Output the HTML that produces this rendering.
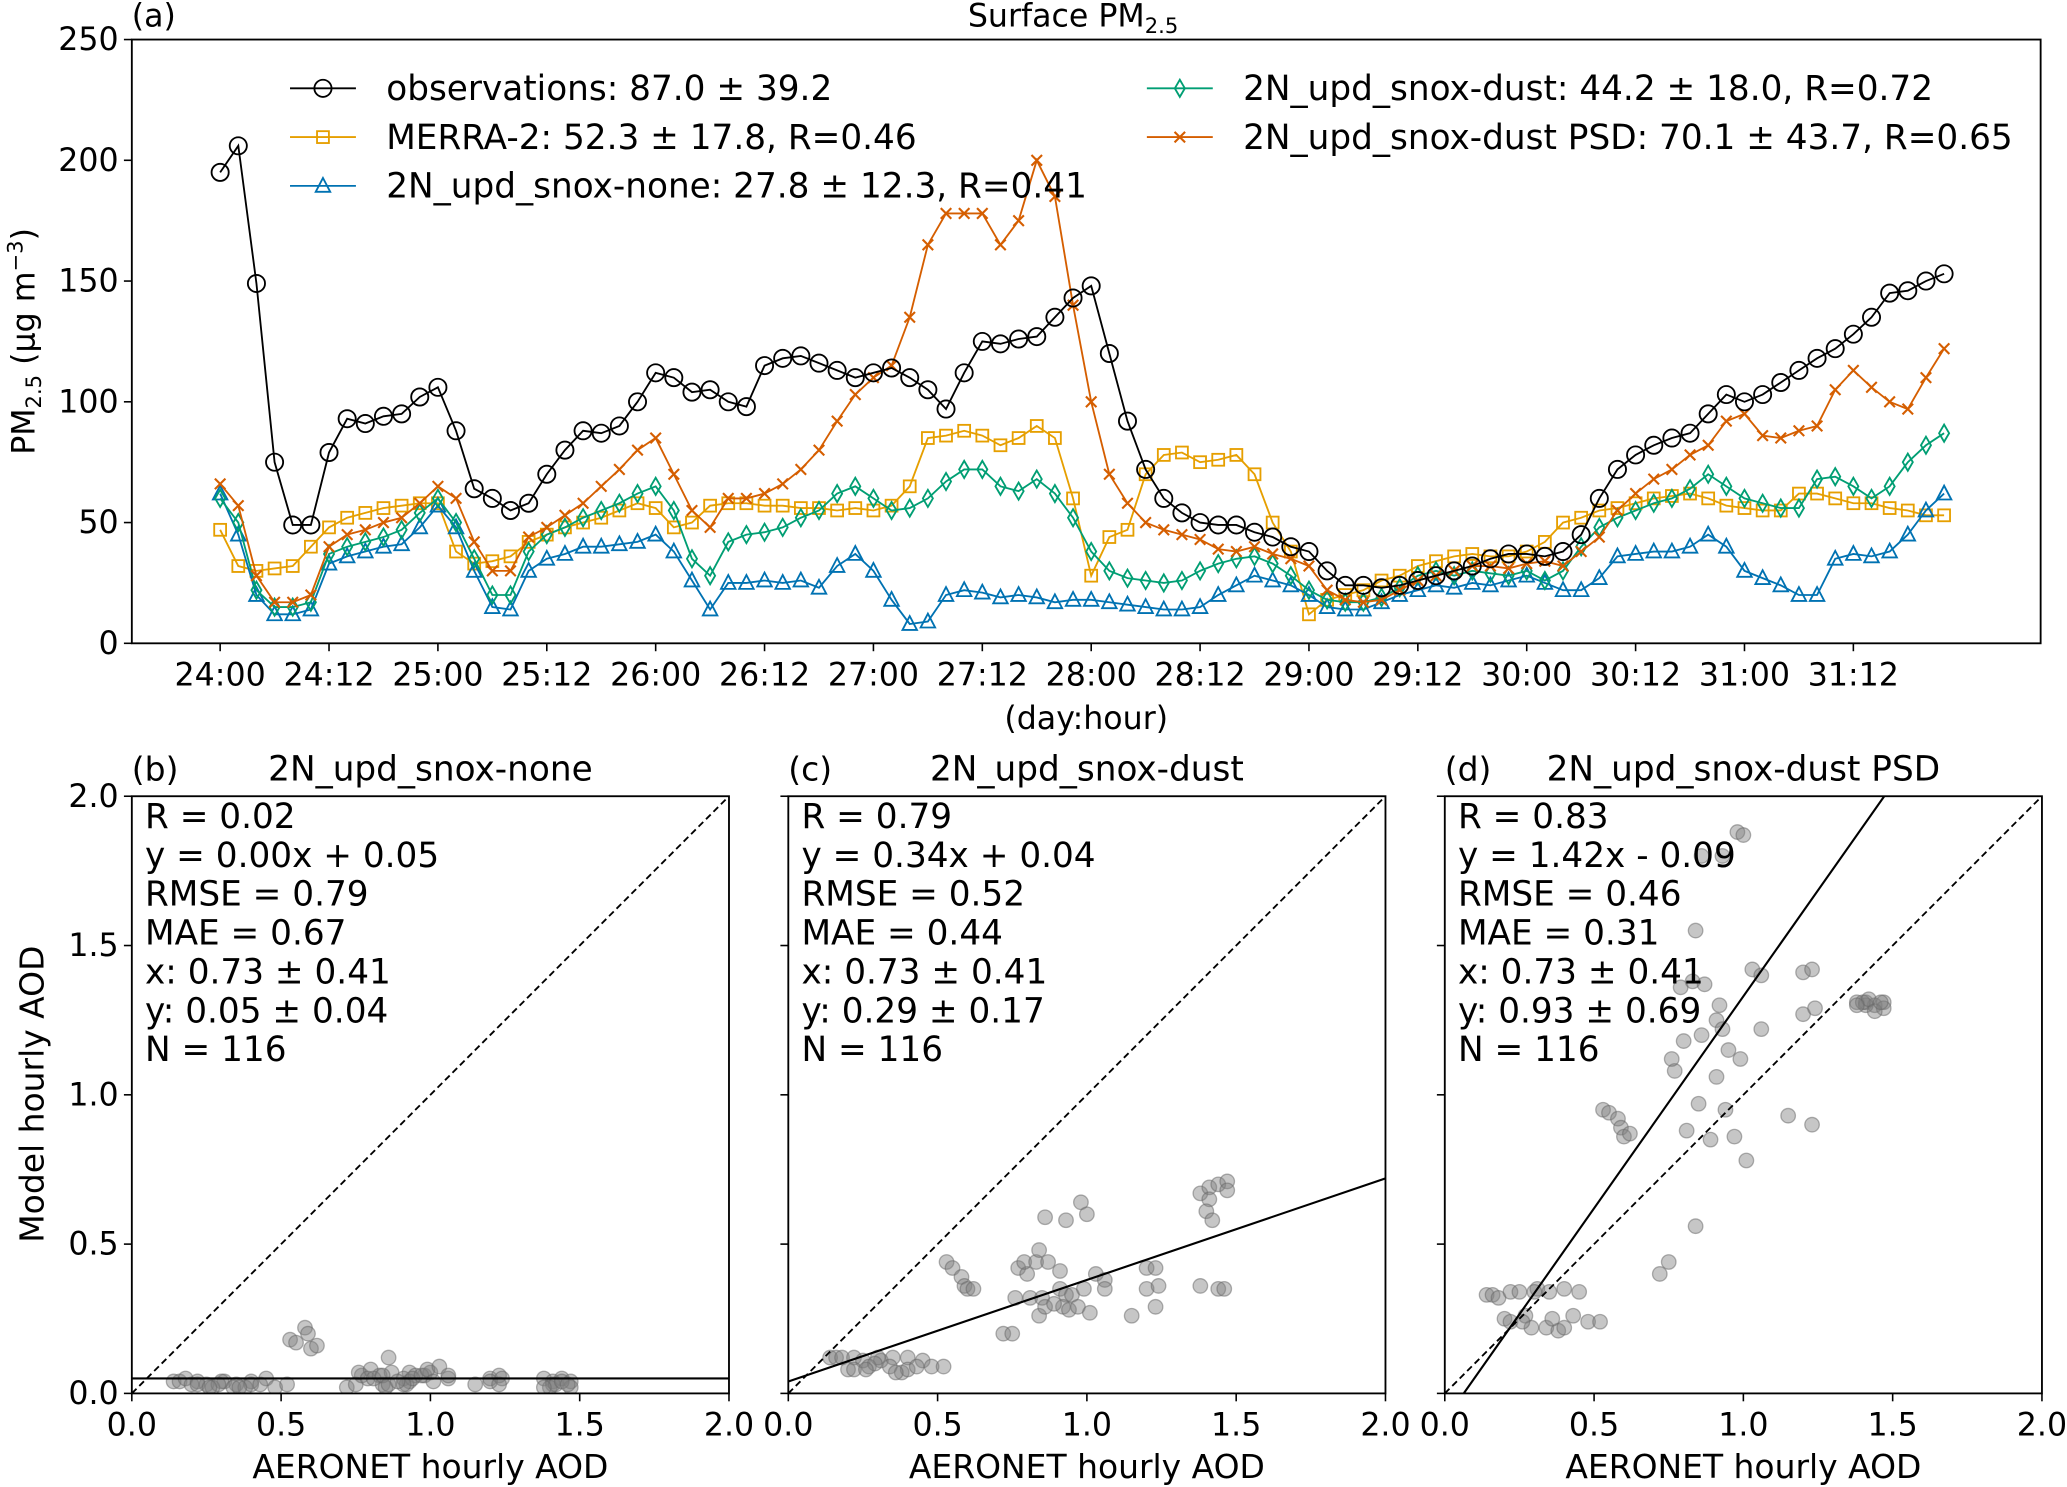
<!DOCTYPE html>
<html><head><meta charset="utf-8"><style>
html,body{margin:0;padding:0;background:#fff;}
svg{display:block;font-family:"DejaVu Sans","Liberation Sans",sans-serif;}
</style></head><body>
<svg id="fig" width="2067" height="1487" viewBox="0 0 1568 1128" preserveAspectRatio="none" xmlns="http://www.w3.org/2000/svg"></svg>
<script>
// ---------- time series data (2-hourly, hours since 24:00) ----------
const hours = [];
for (let h = 0; h <= 190; h += 2) hours.push(h);
const obsVals = [195,206,149,75,49,49,79,93,91,94,95,102,
 106,88,64,60,55,58,70,80,88,87,90,100,
 112,110,104,105,100,98,115,118,119,116,113,110,
 112,114,110,105,97,112,125,124,126,127,135,143,
 148,120,92,72,60,54,50,49,49,46,44,40,
 38,30,24,24,23,24,26,28,30,32,35,37,
 37,36,38,45,60,72,78,82,85,87,95,103,
 100,103,108,113,118,122,128,135,145,146,150,153];
const merraVals = [47,32,30,31,32,40,48,52,54,56,57,58,
 58,38,33,34,36,42,45,48,50,52,55,58,
 56,48,50,57,58,58,57,57,56,56,55,56,
 55,57,65,85,86,88,86,82,85,90,85,60,
 28,44,47,70,78,79,75,76,78,70,50,38,
 12,18,20,22,26,28,32,34,36,37,36,36,
 38,42,50,52,55,56,58,60,61,62,60,57,
 56,55,55,62,62,60,58,58,56,55,53,53];
const noneVals = [62,45,20,12,12,14,33,36,38,40,41,48,
 57,48,30,15,14,30,35,37,40,40,41,42,
 45,38,26,14,25,25,26,25,26,23,32,37,
 30,18,8,9,20,22,21,19,20,19,17,18,
 18,17,16,15,14,14,15,20,24,28,26,24,
 20,15,14,14,17,20,22,24,23,25,24,26,
 28,25,22,22,27,36,37,38,38,40,45,40,
 30,27,24,20,20,35,37,36,38,45,55,62];
const dustVals = [60,50,22,15,15,17,37,40,42,44,47,54,
 60,50,35,20,20,38,45,48,52,55,58,62,
 65,55,35,28,42,45,46,48,52,55,62,65,
 60,55,56,60,67,72,72,65,63,68,62,52,
 38,30,27,26,25,26,30,33,35,36,33,28,
 22,18,17,17,19,23,28,30,28,30,29,28,
 30,26,30,40,48,52,55,58,60,64,70,65,
 60,58,56,56,68,69,65,60,65,75,82,87];
const psdVals = [66,57,28,17,17,20,40,45,47,50,52,58,
 65,60,42,30,30,44,48,53,58,65,72,80,
 85,70,55,48,60,60,62,66,72,80,92,103,
 110,115,135,165,178,178,178,165,175,200,185,140,
 100,70,58,50,47,45,43,39,38,40,37,35,
 32,22,18,17,18,22,26,28,30,32,32,31,
 33,34,32,38,44,55,62,68,72,78,82,92,
 95,86,85,88,90,105,113,106,100,97,110,122];
const xTickLabels = ["24:00","24:12","25:00","25:12","26:00","26:12","27:00","27:12","28:00","28:12","29:00","29:12","30:00","30:12","31:00","31:12"];
const xTickHours = [0,12,24,36,48,60,72,84,96,108,120,132,144,156,168,180];
const yTicks = [0,50,100,150,200,250];

// ---------- scatter data ----------
const aodObs  = [0.14,0.16,0.18,0.22,0.25,0.31,0.35,0.40,0.45,0.30,0.20,0.22,0.27,0.29,0.34,0.38,0.40,0.43,0.48,0.52,0.36,0.26,
 0.53,0.55,0.58,0.59,0.60,0.62,0.72,0.75,0.77,0.76,0.80,0.79,0.83,0.84,0.87,0.86,0.93,0.98,1.00,0.81,0.85,0.84,0.86,0.91,0.93,0.95,0.92,0.94,0.97,0.99,1.01,1.03,1.06,1.06,0.91,0.89,
 1.15,1.20,1.23,1.20,1.24,1.23,1.38,1.41,1.44,1.47,1.47,1.41,1.40,1.42,1.38,1.44,1.46];
const aodNone = [0.04,0.04,0.05,0.04,0.03,0.04,0.03,0.04,0.05,0.04,0.03,0.03,0.02,0.03,0.02,0.02,0.03,0.03,0.02,0.03,0.02,0.02,
 0.18,0.17,0.22,0.20,0.15,0.16,0.02,0.03,0.06,0.07,0.08,0.05,0.06,0.03,0.07,0.12,0.07,0.06,0.07,0.05,0.02,0.06,0.03,0.05,0.04,0.06,0.03,0.05,0.06,0.08,0.04,0.09,0.05,0.06,0.03,0.04,
 0.03,0.05,0.06,0.04,0.05,0.03,0.05,0.04,0.05,0.04,0.02,0.03,0.02,0.03,0.02,0.04,0.03];
const aodDust = [0.12,0.12,0.12,0.12,0.11,0.11,0.12,0.12,0.11,0.12,0.08,0.08,0.09,0.10,0.09,0.07,0.08,0.09,0.09,0.09,0.07,0.08,
 0.44,0.42,0.39,0.36,0.35,0.35,0.20,0.20,0.42,0.32,0.40,0.44,0.44,0.48,0.44,0.59,0.58,0.64,0.60,0.32,0.32,0.26,0.29,0.35,0.33,0.33,0.29,0.28,0.29,0.35,0.27,0.40,0.38,0.35,0.41,0.30,
 0.26,0.42,0.42,0.35,0.36,0.29,0.67,0.69,0.70,0.71,0.68,0.65,0.61,0.58,0.36,0.35,0.35];
const aodPsd  = [0.33,0.33,0.32,0.34,0.34,0.35,0.34,0.35,0.34,0.34,0.25,0.24,0.26,0.22,0.22,0.21,0.22,0.26,0.24,0.24,0.25,0.24,
 0.95,0.94,0.92,0.89,0.86,0.87,0.40,0.44,1.08,1.12,1.18,1.36,1.38,1.55,1.37,1.80,1.80,1.88,1.87,0.88,0.97,0.56,1.20,1.25,1.22,1.15,1.30,0.95,0.86,1.12,0.78,1.42,1.40,1.22,1.06,0.85,
 0.93,1.41,1.42,1.27,1.29,0.90,1.31,1.31,1.30,1.31,1.29,1.30,1.31,1.32,1.30,1.28,1.31];
const fitSlopes = [0.00,0.34,1.42];
const fitIntercepts = [0.05,0.04,-0.09];
const aodTicks = [0,0.5,1.0,1.5,2.0];

const NS = "http://www.w3.org/2000/svg";
const svgRoot = document.getElementById('fig');
function mk(tag, attrs, parent, name, inter) {
  const e = document.createElementNS(NS, tag);
  for (const k in attrs) e.setAttribute(k, attrs[k]);
  
  
  (parent || svgRoot).appendChild(e);
  return e;
}
function txt(x, y, s, size, anchor, name, parent, extra) {
  const t = mk('text', Object.assign({x: x, y: y, 'font-size': size, 'text-anchor': anchor || 'start', fill: '#000'}, extra || {}), parent, name, false);
  t.textContent = s;
  return t;
}

// ---------- top panel ----------
const L = 100, R = 1548, T = 30, B = 488;
const xs = h => 167 + h * 6.883;
const ys = v => B - v * (B - T) / 250;
const topG = mk('g', {}, svgRoot, 'timeseries-panel', false);
mk('rect', {x: L, y: T, width: R - L, height: B - T, fill: 'none', stroke: '#000', 'stroke-width': 1.4}, topG, 'plot-frame', false);
yTicks.forEach(v => {
  mk('line', {x1: L - 6, x2: L, y1: ys(v), y2: ys(v), stroke: '#000', 'stroke-width': 1.2}, topG, 'y-tick', false);
  txt(L - 10, ys(v) + 8, String(v), 24, 'end', 'y-tick-label', topG);
});
xTickHours.forEach((h, i) => {
  mk('line', {x1: xs(h), x2: xs(h), y1: B, y2: B + 6, stroke: '#000', 'stroke-width': 1.2}, topG, 'x-tick', false);
  txt(xs(h), B + 32, xTickLabels[i], 24, 'middle', 'x-tick-label', topG);
});
txt(824, 553, '(day:hour)', 24, 'middle', 'x-axis-title', topG);
const yl = txt(0, 0, '', 24, 'middle', 'y-axis-title', topG, {transform: 'translate(26,259) rotate(-90)'});
yl.innerHTML = 'PM<tspan font-size="16" dy="5">2.5</tspan><tspan dy="-5"> (μg m</tspan><tspan font-size="16" dy="-9">−3</tspan><tspan dy="9">)</tspan>';
txt(100, 20, '(a)', 24, 'start', 'panel-label-a', topG);
const tt = txt(814, 20, '', 24, 'middle', 'chart-title', topG);
tt.innerHTML = 'Surface PM<tspan font-size="16" dy="5">2.5</tspan>';

function marker(type, x, y, color, g) {
  if (type === 'o') return mk('circle', {cx: x, cy: y, r: 6.5, fill: 'none', stroke: color, 'stroke-width': 1.4}, g, 'marker-circle', false);
  if (type === 's') return mk('rect', {x: x - 4.5, y: y - 4.5, width: 9, height: 9, fill: 'none', stroke: color, 'stroke-width': 1.4}, g, 'marker-square', false);
  if (type === '^') return mk('polygon', {points: `${x},${y-6} ${x-5.5},${y+4.5} ${x+5.5},${y+4.5}`, fill: 'none', stroke: color, 'stroke-width': 1.4}, g, 'marker-triangle', false);
  if (type === 'd') return mk('polygon', {points: `${x},${y-6.5} ${x-3.8},${y} ${x},${y+6.5} ${x+3.8},${y}`, fill: 'none', stroke: color, 'stroke-width': 1.4}, g, 'marker-diamond', false);
  if (type === 'x') return mk('path', {d: `M${x-4},${y-4}L${x+4},${y+4}M${x-4},${y+4}L${x+4},${y-4}`, stroke: color, 'stroke-width': 1.6}, g, 'marker-x', false);
}
const series = [
  {vals: merraVals, color: '#E69F00', m: 's', name: 'merra2'},
  {vals: noneVals, color: '#0072B2', m: '^', name: 'snox-none'},
  {vals: dustVals, color: '#009E73', m: 'd', name: 'snox-dust'},
  {vals: psdVals, color: '#D55E00', m: 'x', name: 'snox-dust-psd'},
  {vals: obsVals, color: '#000000', m: 'o', name: 'observations'}
];
series.forEach(s => {
  const g = mk('g', {}, topG, 'series-' + s.name, false);
  const pts = s.vals.map((v, i) => xs(hours[i]) + ',' + ys(v)).join(' ');
  mk('polyline', {points: pts, fill: 'none', stroke: s.color, 'stroke-width': 1.4}, g, 'line-' + s.name, false);
  s.vals.forEach((v, i) => marker(s.m, xs(hours[i]), ys(v), s.color, g));
});
// legend
const leg = mk('g', {}, topG, 'legend', false);
const legItems = [
  [220, 67, 'o', '#000000', 'observations: 87.0 ± 39.2'],
  [220, 104, 's', '#E69F00', 'MERRA-2: 52.3 ± 17.8, R=0.46'],
  [220, 141, '^', '#0072B2', '2N_upd_snox-none: 27.8 ± 12.3, R=0.41'],
  [870, 67, 'd', '#009E73', '2N_upd_snox-dust: 44.2 ± 18.0, R=0.72'],
  [870, 104, 'x', '#D55E00', '2N_upd_snox-dust PSD: 70.1 ± 43.7, R=0.65']
];
legItems.forEach(it => {
  const g = mk('g', {}, leg, 'legend-entry', false);
  mk('line', {x1: it[0], x2: it[0] + 50, y1: it[1], y2: it[1], stroke: it[3], 'stroke-width': 1.4}, g, 'legend-line', false);
  marker(it[2], it[0] + 25, it[1], it[3], g);
  txt(it[0] + 73, it[1] + 9, it[4], 26, 'start', 'legend-label', g);
});

// ---------- scatter panels ----------
const panels = [
  {L: 100, lab: '(b)', title: '2N_upd_snox-none', y: aodNone, stats: ['R = 0.02','y = 0.00x + 0.05','RMSE = 0.79','MAE = 0.67','x: 0.73 ± 0.41','y: 0.05 ± 0.04','N = 116'], yl: true},
  {L: 598, lab: '(c)', title: '2N_upd_snox-dust', y: aodDust, stats: ['R = 0.79','y = 0.34x + 0.04','RMSE = 0.52','MAE = 0.44','x: 0.73 ± 0.41','y: 0.29 ± 0.17','N = 116'], yl: false},
  {L: 1096, lab: '(d)', title: '2N_upd_snox-dust PSD', y: aodPsd, stats: ['R = 0.83','y = 1.42x - 0.09','RMSE = 0.46','MAE = 0.31','x: 0.73 ± 0.41','y: 0.93 ± 0.69','N = 116'], yl: false}
];
const PT = 604, PB = 1057, PW = 453;
panels.forEach((p, k) => {
  const g = mk('g', {}, svgRoot, 'scatter-panel-' + p.lab[1], false);
  const sx = v => p.L + v / 2 * PW;
  const sy = v => PB - v / 2 * (PB - PT);
  const clip = mk('clipPath', {id: 'c' + k}, g, 'clip', false);
  mk('rect', {x: p.L, y: PT, width: PW, height: PB - PT}, clip, 'clip-rect', false);
  const inner = mk('g', {'clip-path': `url(#c${k})`}, g, 'plot-area', false);
  aodObs.forEach((x, i) => {
    mk('circle', {cx: sx(x), cy: sy(p.y[i]), r: 5.5, fill: '#808080', 'fill-opacity': 0.45, stroke: '#666', 'stroke-opacity': 0.5, 'stroke-width': 1}, inner, 'scatter-point', false);
  });
  mk('line', {x1: sx(0), y1: sy(0), x2: sx(2), y2: sy(2), stroke: '#000', 'stroke-width': 1.4, 'stroke-dasharray': '5,3'}, inner, 'one-to-one-line', false);
  mk('line', {x1: sx(0), y1: sy(fitIntercepts[k]), x2: sx(2), y2: sy(fitSlopes[k] * 2 + fitIntercepts[k]), stroke: '#000', 'stroke-width': 1.6}, inner, 'fit-line', false);
  mk('rect', {x: p.L, y: PT, width: PW, height: PB - PT, fill: 'none', stroke: '#000', 'stroke-width': 1.4}, g, 'plot-frame', false);
  aodTicks.forEach(v => {
    mk('line', {x1: sx(v), x2: sx(v), y1: PB, y2: PB + 6, stroke: '#000', 'stroke-width': 1.2}, g, 'x-tick', false);
    txt(sx(v), PB + 32, v.toFixed(1), 24, 'middle', 'x-tick-label', g);
    mk('line', {x1: p.L - 6, x2: p.L, y1: sy(v), y2: sy(v), stroke: '#000', 'stroke-width': 1.2}, g, 'y-tick', false);
    if (p.yl) txt(p.L - 10, sy(v) + 8, v.toFixed(1), 24, 'end', 'y-tick-label', g);
  });
  txt(p.L + PW / 2, 1121, 'AERONET hourly AOD', 25, 'middle', 'x-axis-title', g);
  txt(p.L, 592, p.lab, 25, 'start', 'panel-label', g);
  txt(p.L + PW / 2, 592, p.title, 26, 'middle', 'panel-title', g);
  p.stats.forEach((s, i) => txt(p.L + 10, 628 + i * 29.5, s, 26, 'start', 'stats-text', g));
});
txt(0, 0, 'Model hourly AOD', 25, 'middle', 'y-axis-title-aod', svgRoot, {transform: 'translate(33,830) rotate(-90)'});
</script>
</body></html>
